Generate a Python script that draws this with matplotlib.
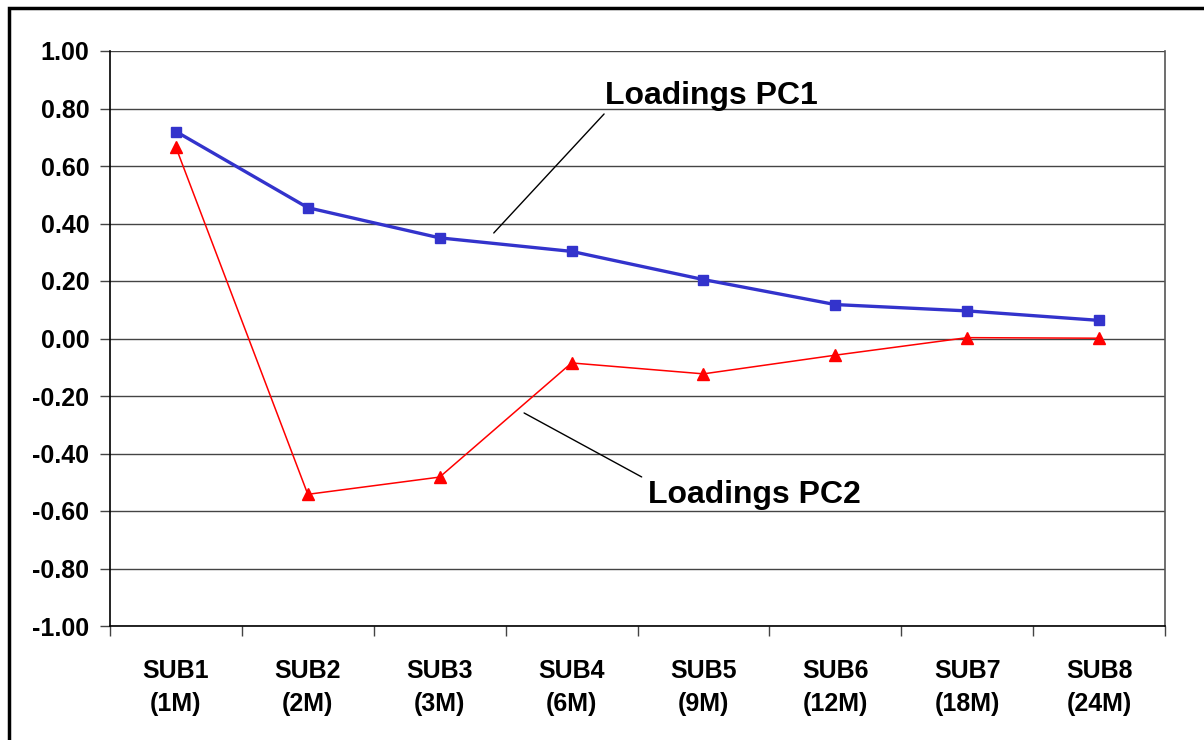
import numpy as np
import matplotlib.pyplot as plt
from matplotlib.patches import Rectangle

# categories and loadings
categories = ["SUB1\n(1M)", "SUB2\n(2M)", "SUB3\n(3M)", "SUB4\n(6M)",
              "SUB5\n(9M)", "SUB6\n(12M)", "SUB7\n(18M)", "SUB8\n(24M)"]
pc1 = [0.72, 0.455, 0.35, 0.303, 0.205, 0.118, 0.096, 0.063]
pc2 = [0.665, -0.542, -0.482, -0.085, -0.123, -0.058, 0.003, 0.001]
yticks = np.round(np.arange(-1.0, 1.01, 0.2), 2)

plt.rcParams['font.family'] = ['Liberation Sans', 'DejaVu Sans']
plt.rcParams['font.weight'] = 'bold'

fig = plt.figure(figsize=(12.04, 7.40), dpi=100)
ax = fig.add_axes([110/1204, 1 - 626/740, 1055/1204, 575/740])

x = np.arange(len(categories))
ax.plot(x, pc1, color='#3333CC', lw=2.4, marker='s', ms=6.5, zorder=3)
ax.plot(x, pc2, color='#FF0000', lw=1.1, marker='^', ms=8, zorder=3)

ax.set_xlim(-0.5, len(categories) - 0.5)
ax.set_ylim(-1.0, 1.0)
ax.set_yticks(yticks)
ax.set_yticklabels([f"{v:.2f}".replace("-0.00", "0.00") for v in yticks],
                   fontsize=18, fontweight='bold')
ax.yaxis.grid(True, color='#444444', lw=1)
ax.set_axisbelow(True)

ax.set_xticks(x)
ax.set_xticklabels(categories, fontsize=18, fontweight='bold', linespacing=1.45)
ax.set_xticks(np.arange(-0.5, len(categories)), minor=True)
ax.tick_params(axis='x', which='major', length=0, pad=24)
ax.tick_params(axis='x', which='minor', length=7, width=1, color='#444444')
ax.tick_params(axis='y', length=7, width=1, color='#444444', pad=8)

ax.spines['top'].set_visible(False)
ax.spines['right'].set_color('#555555')
ax.spines['left'].set_color('black')
ax.spines['bottom'].set_color('black')
for s in ax.spines.values():
    s.set_linewidth(1.2)

# callout labels
ax.annotate("Loadings PC1", xy=(2.41, 0.367), xytext=(3.25, 0.815),
            fontsize=23, fontweight='bold', ha='left', va='baseline',
            arrowprops=dict(arrowstyle='-', color='black', lw=1,
                            shrinkA=0, shrinkB=0, relpos=(0.01, 0.0)))
ax.annotate("Loadings PC2", xy=(2.64, -0.259), xytext=(3.58, -0.572),
            fontsize=23, fontweight='bold', ha='left', va='baseline',
            arrowprops=dict(arrowstyle='-', color='black', lw=1,
                            shrinkA=0, shrinkB=0, relpos=(-0.03, 1.1)))

# outer chart frame (runs off the right and bottom edges)
fig.patches.append(Rectangle((9/1204, -0.05), 1.1, 1 - 8/740 + 0.05,
                             transform=fig.transFigure, fill=False,
                             edgecolor='black', lw=2.5))

fig.savefig("out.png", dpi=100)
